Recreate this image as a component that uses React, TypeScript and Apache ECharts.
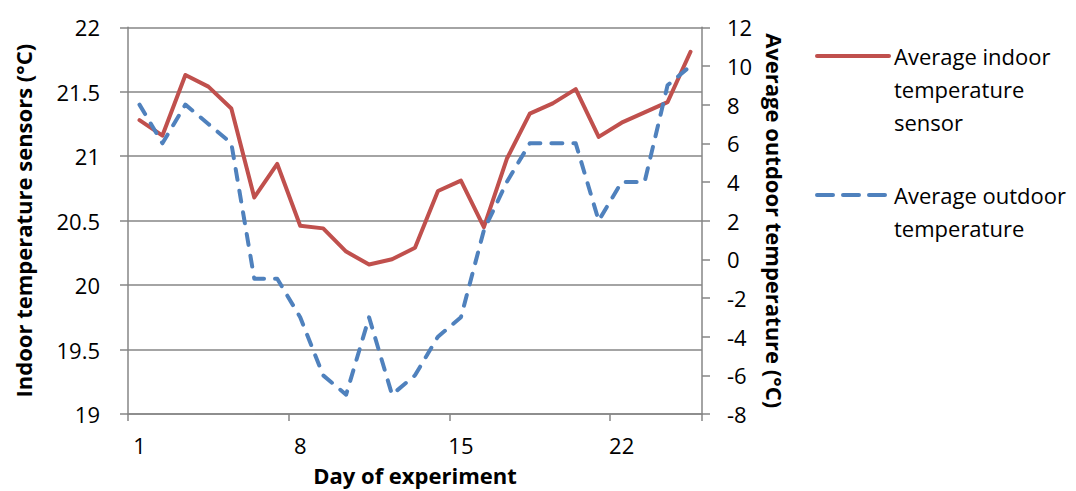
import React, { useEffect, useRef } from "react";
import * as echarts from "echarts";

const days: string[] = [
  "1","2","3","4","5","6","7","8","9","10","11","12","13",
  "14","15","16","17","18","19","20","21","22","23","24","25",
];

const indoorName = "Average indoor temperature sensor";
const outdoorName = "Average outdoor temperature";

const indoorTemps: number[] = [
  21.28, 21.16, 21.63, 21.54, 21.37, 20.68, 20.94, 20.46, 20.44, 20.26,
  20.16, 20.2, 20.29, 20.73, 20.81, 20.45, 20.98, 21.33, 21.41, 21.52,
  21.15, 21.26, 21.34, 21.42, 21.81,
];

const outdoorTemps: number[] = [
  8, 6, 8, 7, 6, -1, -1, -3, -6, -7, -3, -7, -6, -4, -3, 1.5, 4, 6, 6, 6,
  2, 4, 4, 9, 10,
];

const FONT = "'Open Sans', 'Noto Sans', sans-serif";
const AXIS_GRAY = "#868686";
const RED = "#C0504D";
const BLUE = "#4F81BD";
const DASH = [11, 11];
const LEGEND_DASH = [16, 10];

export default function App() {
  const ref = useRef<HTMLDivElement>(null);

  useEffect(() => {
    if (!ref.current) return;
    const chart = echarts.init(ref.current, undefined, { renderer: "svg" });
    const labelStyle = { color: "#000", fontFamily: FONT, fontSize: 22 };
    const nameStyle = { color: "#000", fontFamily: FONT, fontSize: 22, fontWeight: "bold" as const };
    const legendText = { color: "#000", fontFamily: FONT, fontSize: 22, lineHeight: 33 };
    const hiddenSymbol = { color: "transparent", borderWidth: 0, opacity: 0 };

    chart.setOption({
      animation: false,
      backgroundColor: "#fff",
      grid: { left: 128, right: 374, top: 27.3, bottom: 75, containLabel: false },
      legend: [
        {
          data: [indoorName],
          orient: "vertical",
          left: 815,
          top: 56 - 82.5,
          padding: 0,
          itemWidth: 72,
          itemHeight: 14,
          textStyle: legendText,
          itemStyle: hiddenSymbol,
          lineStyle: { width: 4, cap: "round", color: RED, opacity: 1 },
          formatter: () => "\n\nAverage indoor\ntemperature\nsensor",
        },
        {
          data: [outdoorName],
          orient: "vertical",
          left: 815,
          top: 195 - 49.5,
          padding: 0,
          itemWidth: 72,
          itemHeight: 14,
          textStyle: legendText,
          itemStyle: hiddenSymbol,
          lineStyle: { width: 4, cap: "round", type: LEGEND_DASH, color: BLUE, opacity: 1 },
          formatter: () => "\nAverage outdoor\ntemperature",
        },
      ],
      xAxis: {
        type: "category",
        data: days,
        boundaryGap: true,
        name: "Day of experiment",
        nameLocation: "middle",
        nameGap: 50,
        nameTextStyle: nameStyle,
        axisLine: { show: true, onZero: false, lineStyle: { color: AXIS_GRAY, width: 1.5 } },
        axisTick: { show: true, interval: 6, length: 7, alignWithLabel: false, lineStyle: { color: AXIS_GRAY, width: 1.5 } },
        axisLabel: { interval: 6, margin: 20, ...labelStyle },
        splitLine: { show: false },
      },
      yAxis: [
        {
          type: "value",
          min: 19,
          max: 22,
          interval: 0.5,
          position: "left",
          name: "Indoor temperature sensors (°C)",
          nameLocation: "middle",
          nameGap: 94,
          nameTextStyle: nameStyle,
          axisLine: { show: true, lineStyle: { color: AXIS_GRAY, width: 1.5 } },
          axisTick: { show: true, length: 8, lineStyle: { color: AXIS_GRAY, width: 1.5 } },
          axisLabel: { margin: 28, ...labelStyle },
          splitLine: { show: true, lineStyle: { color: AXIS_GRAY, width: 1.5 } },
        },
        {
          type: "value",
          min: -8,
          max: 12,
          interval: 2,
          position: "right",
          name: "Average outdoor temperature (°C)",
          nameLocation: "middle",
          nameGap: 62,
          nameRotate: -90,
          nameTextStyle: nameStyle,
          axisLine: { show: true, lineStyle: { color: AXIS_GRAY, width: 1.5 } },
          axisTick: { show: true, length: 8, lineStyle: { color: AXIS_GRAY, width: 1.5 } },
          axisLabel: { margin: 25, ...labelStyle },
          splitLine: { show: false },
        },
      ],
      series: [
        {
          name: indoorName,
          type: "line",
          yAxisIndex: 0,
          data: indoorTemps,
          symbol: "none",
          lineStyle: { color: RED, width: 4, cap: "round", join: "round" },
          itemStyle: { color: RED },
          z: 2,
        },
        {
          name: outdoorName,
          type: "line",
          yAxisIndex: 1,
          data: outdoorTemps,
          symbol: "none",
          lineStyle: { color: BLUE, width: 4, type: DASH, cap: "round", join: "round" },
          itemStyle: { color: BLUE },
          z: 3,
        },
      ],
    });
    return () => chart.dispose();
  }, []);

  return (
    <div
      ref={ref}
      style={{ position: "fixed", left: 0, top: 0, width: 1076, height: 491, background: "#fff" }}
    />
  );
}
